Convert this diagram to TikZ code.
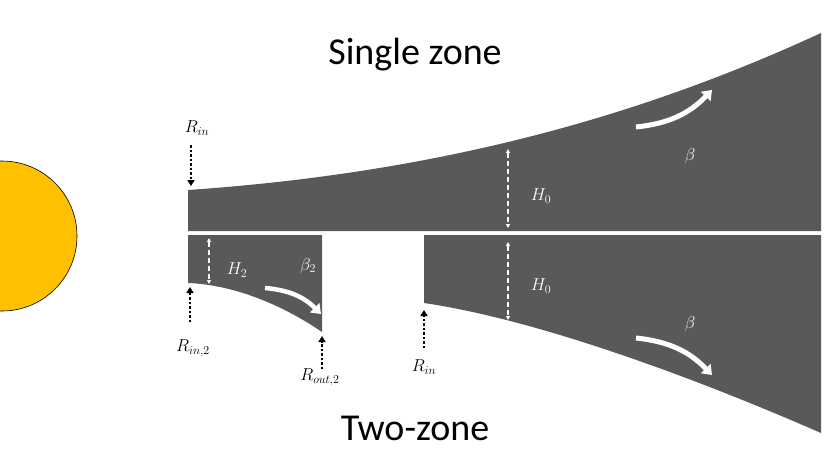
\documentclass[tikz,border=0pt]{standalone}
\usepackage{fontspec}
\newfontfamily\tf{Carlito}
\usetikzlibrary{arrows.meta}
\definecolor{disk}{HTML}{595959}
\definecolor{sun}{HTML}{FFC000}
\tikzset{
 blk/.style={black,line width=2.2pt,dash pattern=on 2.5pt off 2pt,-{Triangle[length=6pt,width=7pt]}},
 wdash/.style={white,line width=1.2pt,dash pattern=on 5pt off 3pt,{Triangle[length=4pt,width=4pt]}-{Triangle[length=4pt,width=4pt]}},
 warr/.style={white,line width=5pt,-{Triangle[length=9pt,width=13pt]}},
 lab/.style={font=\fontsize{17}{20}\selectfont},
 wlab/.style={lab,text=white},
 ttl/.style={font=\tf\fontsize{38}{44}\selectfont}
}
\begin{document}
\begin{tikzpicture}[x=1pt,y=-1pt]
\useasboundingbox (0,0) rectangle (830,467);
\begin{scope}
\clip (0,0) rectangle (830,467);
\draw[fill=sun,draw=black,line width=0.6pt] (2,236) circle (75);
\end{scope}
% disks
\fill[disk] (188,190) .. controls (450,172) and (650,112) .. (821,33) -- (821,231) -- (188,231) -- cycle;
\fill[disk] (188,235) -- (322,235) -- (322,332) .. controls (290,310) and (240,285) .. (188,283) -- cycle;
\fill[disk] (424,235) -- (821,235) -- (821,433) .. controls (700,380) and (540,320) .. (424,303) -- cycle;
% coordinates
\coordinate (a1) at (191,145); \coordinate (a1e) at (191,186);
\coordinate (a2) at (190,322); \coordinate (a2e) at (190,287);
\coordinate (a3) at (322,369); \coordinate (a3e) at (322,336);
\coordinate (a4) at (424,348); \coordinate (a4e) at (424,310);
\draw[blk] (a1) -- (a1e);
\draw[blk] (a2) -- (a2e);
\draw[blk] (a3) -- (a3e);
\draw[blk] (a4) -- (a4e);
\coordinate (h1) at (508,149); \coordinate (h1e) at (508,228);
\coordinate (h2) at (508,242); \coordinate (h2e) at (508,320);
\coordinate (h3) at (209,238); \coordinate (h3e) at (209,284);
\draw[wdash] (h1) -- (h1e);
\draw[wdash] (h2) -- (h2e);
\draw[wdash] (h3) -- (h3e);
\coordinate (b1) at (636,127); \coordinate (b1e) at (712,90);
\coordinate (b2) at (636,338); \coordinate (b2e) at (712,375);
\coordinate (b3) at (265,288); \coordinate (b3e) at (321,314);
\draw[warr] (b1) to[bend right=20] (b1e);
\draw[warr] (b2) to[bend left=20] (b2e);
\draw[warr,line width=4.5pt] (b3) to[bend left=20] (b3e);
% labels
\node[ttl] (t1) at (415,55) {Single zone};
\node[ttl] (t2) at (415,428) {Two-zone};
\node[lab] (l1) at (197,128) {$R_{in}$};
\node[lab] (l2) at (193,348) {$R_{in,2}$};
\node[lab] (l3) at (320,377) {$R_{out,2}$};
\node[lab] (l4) at (424,367) {$R_{in}$};
\node[wlab] (w1) at (541,196) {$H_0$};
\node[wlab] (w2) at (541,286) {$H_0$};
\node[wlab] (w3) at (237,270) {$H_2$};
\node[wlab] (w4) at (308,266) {$\beta_2$};
\node[wlab] (w5) at (690,156) {$\beta$};
\node[wlab] (w6) at (690,324) {$\beta$};
\end{tikzpicture}
\end{document}
